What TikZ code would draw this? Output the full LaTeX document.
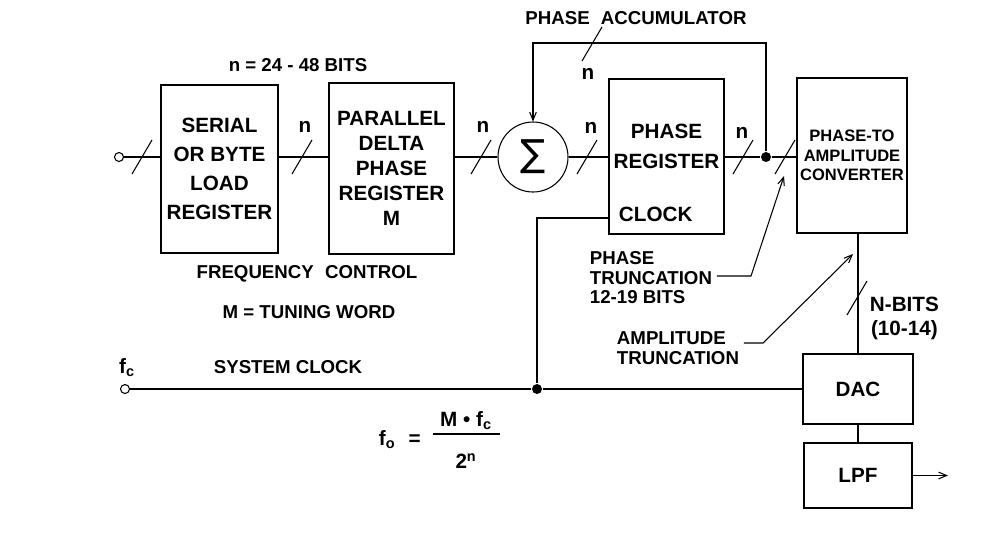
\documentclass[tikz,border=0pt]{standalone}
\usepackage{fontspec}
\setmainfont{Liberation Sans}
\newfontfamily\symfont{DejaVu Sans}
\usetikzlibrary{arrows.meta}
\newcommand{\busmark}[1]{\draw ([shift={(-10,17)}]#1) -- ++(20,-34);}

\begin{document}
\begin{tikzpicture}[x=0.75pt,y=-0.75pt,line width=0.8pt,
	font=\bfseries\fontsize{14}{14.6}\selectfont,
	box/.style 2 args={draw,minimum width=#1*0.75pt,minimum height=#2*0.75pt,inner sep=0,align=center,font=\bfseries\fontsize{15.5}{18.75}\selectfont},
	big/.style={font=\bfseries\fontsize{15.5}{18}\selectfont},
	port/.style={draw,circle,fill=white,inner sep=0,minimum size=6.75pt},
	dot/.style={circle,fill=black,inner sep=0,minimum size=7.5pt},
	tip/.style={-{Straight Barb[length=6pt,width=5pt]}}]
	\useasboundingbox (0,0) rectangle (1007,537);
	\node[port] (in) at (119,157) {};
	\node[box={117}{168},font=\bfseries\fontsize{15.5}{21.75}\selectfont] (load) at (219.5,169) {SERIAL\\OR BYTE\\LOAD\\REGISTER};
	\node[box={125}{171}] (delta) at (391.5,168.5) {PARALLEL\\DELTA\\PHASE\\REGISTER\\M};
	\node[draw,circle,minimum size=52.5pt,inner sep=0] (sum) at (533,157) {\symfont\mdseries\fontsize{28}{28}\selectfont ∑};
	\node[box={115}{155}] (preg) at (666.5,156.5) {};
	\node[font=\bfseries\fontsize{15.5}{22.5}\selectfont,align=center] (pregtxt) at (666.5,146) {PHASE\\REGISTER};
	\node[big,anchor=west] (clock) at (614,214) {CLOCK};
	\node[dot] (acc) at (766,157) {};
	\node[box={110}{155},font=\bfseries\fontsize{12.4}{14.6}\selectfont] (conv) at (852,155.5) {PHASE-TO\\AMPLITUDE\\CONVERTER};
	\node[box={110}{70}] (dac) at (858,389) {DAC};
	\node[box={108}{65}] (lpf) at (858,475.5) {LPF};
	\node[port] (fc) at (125,389) {};
	\node[dot] (clk) at (537,389) {};
	\coordinate (acctop) at (766,43);
	\coordinate (clkin) at (609,218);
	\coordinate (out) at (948,475.5);
	\coordinate (ptip) at (784,176);
	\coordinate (pknee) at (751,276);
	\coordinate (atip) at (853,254);
	\coordinate (aknee) at (763,343);

	\draw (in) -- (in -| load.west);
	\draw (in -| load.east) -- (in -| delta.west);
	\draw (in -| delta.east) -- (sum);
	\draw (sum) -- (sum -| preg.west);
	\draw (sum -| preg.east) -- (acc) -- (acc -| conv.west);
	\draw[tip] (acc) -- (acctop) -| (sum);
	\draw (clkin) -| (clk);
	\draw (fc) -- (clk) -- (dac);
	\draw (conv.south -| dac) -- (dac);
	\draw (dac) -- (lpf);
	\draw[tip] (lpf) -- (out);

	\busmark{142,157}
	\busmark{302,157}
	\busmark{481,157}
	\busmark{587,157}
	\busmark{743,157}
	\busmark{785,157}
	\busmark{592,44}
	\busmark{857,298}

	\node[big] (n1) at (305,127) {n};
	\node[big] (n2) at (483,127) {n};
	\node[big] (n3) at (591,128) {n};
	\node[big] (n4) at (742,133) {n};
	\node[big] (n5) at (588,74) {n};

	\node (width) at (298,65) {n = 24 - 48 BITS};
	\node (accum) at (636,18) {PHASE\hspace{0.6em}ACCUMULATOR};
	\node (freq) at (307,274) {FREQUENCY\hspace{0.6em}CONTROL};
	\node (tuning) at (309,312) {M = TUNING WORD};
	\node (sysclk) at (288,367) {SYSTEM CLOCK};
	\node[big] (fclbl) at (127,368) {f\textsubscript{c}};
	\node[big,anchor=west,align=center] (nbits) at (865,318) {N-BITS\\(10-14)};

	\node[anchor=west,align=left] (ptrunc) at (585,278) {PHASE\\TRUNCATION\\12-19 BITS};
	\node[anchor=west,align=left] (atrunc) at (612,348) {AMPLITUDE\\TRUNCATION};
	\draw[tip] (ptrunc.east |- pknee) -- (pknee) -- (ptip);
	\draw[tip] (atrunc.east |- aknee) -- (aknee) -- (atip);

	\node[big,anchor=west] (fo) at (374,440) {f\textsubscript{o}\hspace{10pt}=};
	\node[big] (num) at (466,421) {M • f\textsubscript{c}};
	\node[big] (den) at (466,461) {2\textsuperscript{n}};
	\draw (433,434) -- (500,434);
\end{tikzpicture}
\end{document}
